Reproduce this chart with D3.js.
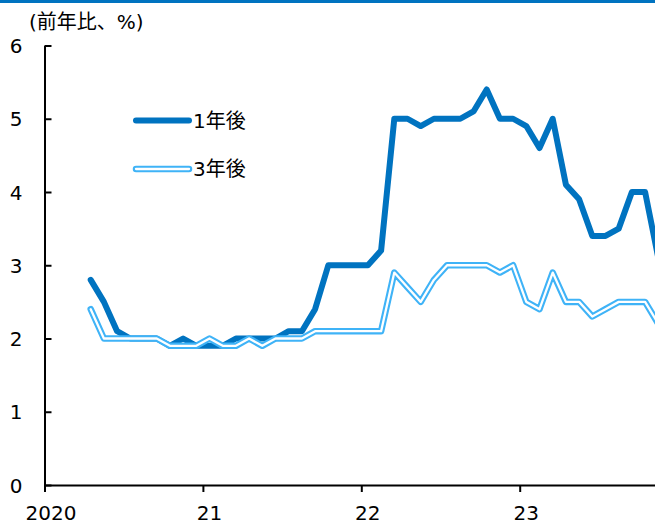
<!DOCTYPE html>
<html>
<head>
<meta charset="utf-8">
<script src="https://cdn.jsdelivr.net/npm/d3@7"></script>
<style>
  html, body { margin: 0; padding: 0; background: #fff; }
  svg { display: block; }
  text { font-family: "DejaVu Sans", "Noto Sans CJK JP", sans-serif; fill: #000; }
</style>
</head>
<body>
<svg id="chart" width="655" height="524"></svg>
<script>
// Monthly series, April 2020 – November 2023
const startMonth = 3; // months after January 2020 (April 2020)
const oneYearAhead = [
  2.8, 2.5, 2.1, 2.0, 2.0, 2.0, 1.9, 2.0, 1.9,
  1.9, 1.9, 2.0, 2.0, 2.0, 2.0, 2.1, 2.1, 2.4, 3.0, 3.0, 3.0,
  3.0, 3.2, 5.0, 5.0, 4.9, 5.0, 5.0, 5.0, 5.1, 5.4, 5.0, 5.0,
  4.9, 4.6, 5.0, 4.1, 3.9, 3.4, 3.4, 3.5, 4.0, 4.0, 3.1
];
const threeYearsAhead = [
  2.4, 2.0, 2.0, 2.0, 2.0, 2.0, 1.9, 1.9, 1.9,
  2.0, 1.9, 1.9, 2.0, 1.9, 2.0, 2.0, 2.0, 2.1, 2.1, 2.1, 2.1,
  2.1, 2.1, 2.9, 2.7, 2.5, 2.8, 3.0, 3.0, 3.0, 3.0, 2.9, 3.0,
  2.5, 2.4, 2.9, 2.5, 2.5, 2.3, 2.4, 2.5, 2.5, 2.5, 2.2
];
const seriesNames = ["1年後", "3年後"];
const yTicks = [0, 1, 2, 3, 4, 5, 6];
const xTickMonths = [0, 12, 24, 36];
const xTickLabels = ["2020", "21", "22", "23"];
const yTitle = "(前年比、%)";

const darkBlue = "#0073c0";
const lightBlue = "#3fb3f7";
const fontSize = "20px";

const svg = d3.select("#chart");

// thin rule across the top
svg.append("rect").attr("x", 0).attr("y", 0).attr("width", 655).attr("height", 3).attr("fill", darkBlue);

const x = d3.scaleLinear().domain([0, 48]).range([44.5, 44.5 + 48 * 13.2]);
const y = d3.scaleLinear().domain([0, 6]).range([485, 45.5]);

// axes
const yAxis = d3.axisLeft(y).tickValues(yTicks).tickFormat(d3.format("d"))
  .tickSizeInner(-7).tickSizeOuter(0).tickPadding(22);
const gy = svg.append("g").attr("transform", `translate(${x(0)},0)`).call(yAxis);
gy.select(".domain").attr("stroke", "#000").attr("stroke-width", 2);
gy.selectAll(".tick line").attr("stroke", "#000").attr("stroke-width", 2);
gy.selectAll(".tick text").style("font-size", fontSize).attr("dy", "0.36em");

const xAxis = d3.axisBottom(x).tickValues(xTickMonths)
  .tickFormat((d, i) => xTickLabels[i]).tickSizeInner(7).tickSizeOuter(0).tickPadding(14);
const gx = svg.append("g").attr("transform", `translate(0,${y(0)})`).call(xAxis);
gx.select(".domain").attr("stroke", "#000").attr("stroke-width", 2);
gx.selectAll(".tick line").attr("stroke", "#000").attr("stroke-width", 2);
gx.selectAll(".tick text").style("font-size", fontSize).attr("dx", 6);

// y-axis title
svg.append("text").attr("x", 29).attr("y", 29).style("font-size", fontSize).text(yTitle);

const line = d3.line()
  .x((d, i) => x(startMonth + i + 0.5))
  .y(d => y(d));

// 1-year-ahead: thick solid line
svg.append("path").datum(oneYearAhead).attr("d", line)
  .attr("fill", "none").attr("stroke", darkBlue).attr("stroke-width", 6)
  .attr("stroke-linejoin", "round").attr("stroke-linecap", "round");

// 3-years-ahead: double line (light blue outline, white core)
svg.append("path").datum(threeYearsAhead).attr("d", line)
  .attr("fill", "none").attr("stroke", lightBlue).attr("stroke-width", 6.5)
  .attr("stroke-linejoin", "round").attr("stroke-linecap", "round");
svg.append("path").datum(threeYearsAhead).attr("d", line)
  .attr("fill", "none").attr("stroke", "#fff").attr("stroke-width", 2.3)
  .attr("stroke-linejoin", "round").attr("stroke-linecap", "round");

// legend
const lg = svg.append("g");
lg.append("line").attr("x1", 136).attr("x2", 189).attr("y1", 120.5).attr("y2", 120.5)
  .attr("stroke", darkBlue).attr("stroke-width", 6).attr("stroke-linecap", "round");
lg.append("text").attr("x", 193).attr("y", 120.5).attr("dy", "0.36em").style("font-size", fontSize).text(seriesNames[0]);
lg.append("line").attr("x1", 136).attr("x2", 189).attr("y1", 169).attr("y2", 169)
  .attr("stroke", lightBlue).attr("stroke-width", 6.5).attr("stroke-linecap", "round");
lg.append("line").attr("x1", 136).attr("x2", 189).attr("y1", 169).attr("y2", 169)
  .attr("stroke", "#fff").attr("stroke-width", 2.3).attr("stroke-linecap", "round");
lg.append("text").attr("x", 193).attr("y", 169).attr("dy", "0.36em").style("font-size", fontSize).text(seriesNames[1]);
</script>
</body>
</html>
